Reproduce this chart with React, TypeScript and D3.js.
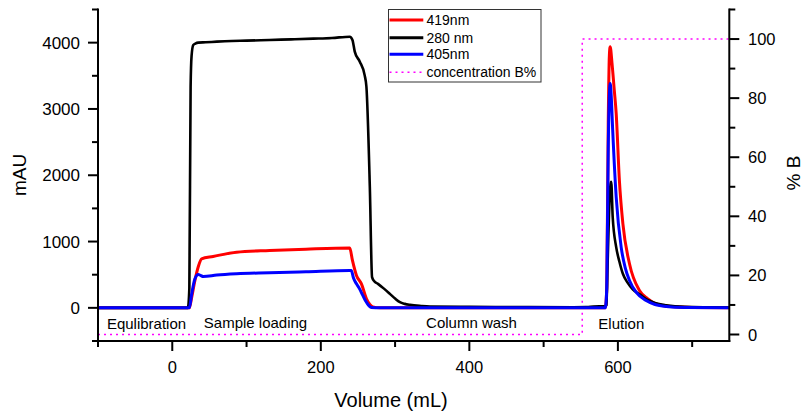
import React from "react";
import * as d3 from "d3";

// ---------- data ----------
const vol280 = [-100, 21, 23, 24.7, 26, 28.3, 31, 35, 45, 60, 80, 100, 131, 160, 190, 215, 239, 242.6, 245.7, 252.5, 259, 261.4, 266, 269, 272, 277, 285, 293, 300, 306.5, 313, 320, 335, 347, 400, 480, 540, 560, 575, 583, 584.5, 586, 588, 590, 591, 593, 597.7, 602, 606.7, 613, 620, 630, 640, 650, 665, 690, 750];
const abs280 = [0, 0, 300, 3335, 3800, 3965, 3985, 4000, 4005, 4015, 4025, 4030, 4041, 4050, 4060, 4070, 4090, 4040, 3865, 3713, 3510, 3335, 1823, 463, 400, 362, 290, 211, 140, 85, 60, 45, 28, 20, 15, 12, 10, 12, 25, 25, 40, 600, 1400, 1850, 1900, 1370, 916, 700, 514, 380, 280, 200, 120, 75, 40, 15, 5];

const vol419 = [-100, 23, 26, 30.5, 35, 39.5, 55, 86.6, 131, 180, 239, 242.6, 248, 254.7, 261.5, 266, 270, 280, 400, 583, 585, 587, 588.5, 589.6, 592, 595, 597.7, 602, 606.7, 615.6, 629, 640, 651.5, 670, 700, 750];
const abs419 = [0, 0, 150, 412, 620, 740, 775, 840, 866, 885, 901, 715, 488, 362, 136, 50, 15, 0, 0, 0, 300, 2800, 3800, 3940, 3700, 3300, 2933, 1925, 1270, 665, 262, 140, 60, 20, 5, 0];

const vol405 = [-100, 23, 26, 30.5, 35, 38, 41.7, 60, 86.6, 131, 180, 239, 241, 244, 248, 252, 256, 260, 265, 268, 280, 400, 583, 585, 587, 589.6, 591, 593, 597.7, 604.4, 610, 615.6, 625, 638, 650, 665, 690, 750];
const abs405 = [0, 0, 200, 438, 503, 490, 473, 495, 514, 529, 545, 564, 564, 450, 362, 290, 200, 110, 30, 5, 0, 0, 0, 300, 2400, 3385, 3200, 2680, 1672, 916, 600, 413, 230, 110, 50, 20, 5, 0];

const volB = [-100, 552, 552, 750];
const concB = [0, 0, 100, 100];

const xTicksMajor = [0, 200, 400, 600];
const xTicksMinor = [-100, 100, 300, 500, 700];
const yTicksMajor = [0, 1000, 2000, 3000, 4000];
const yTicksMinor = [-500, 500, 1500, 2500, 3500, 4500];
const y2TicksMajor = [0, 20, 40, 60, 80, 100];
const y2TicksMinor = [10, 30, 50, 70, 90, 110];

const legendItems = [
  { label: "419nm", color: "#ff0000", dash: "" },
  { label: "280 nm", color: "#000000", dash: "" },
  { label: "405nm", color: "#0000ff", dash: "" },
  { label: "concentration B%", color: "#ff00ff", dash: "2,4" },
];

const phaseLabels = [
  { text: "Equlibration", x: 146.5, y: 329 },
  { text: "Sample loading", x: 255.5, y: 328 },
  { text: "Column wash", x: 471.5, y: 328 },
  { text: "Elution", x: 621.3, y: 328.5 },
];

// ---------- layout ----------
const W = 805;
const H = 414;
const L = 98;
const R = 729.3;
const T = 9.5;
const B = 341;

const FONT = "Arial, 'Liberation Sans', sans-serif";

export default function App() {
  const x = d3.scaleLinear().domain([-100, 750]).range([L, R]);
  const y = d3.scaleLinear().domain([-500, 4500]).range([B, T]);
  const y2 = d3.scaleLinear().domain([-2.2, 110]).range([B, T]);

  const mk = (xs: number[], ys: number[]) => xs.map((v, i) => [v, ys[i]] as [number, number]);
  const line = d3
    .line<[number, number]>()
    .x((d) => x(d[0]))
    .y((d) => y(d[1]))
    .curve(d3.curveMonotoneX);
  const lineB = d3
    .line<[number, number]>()
    .x((d) => x(d[0]))
    .y((d) => y2(d[1]));

  const axisStroke = 2;

  return (
    <svg
      width={W}
      height={H}
      style={{ position: "absolute", left: 0, top: 0, background: "#fff" }}
      fontFamily={FONT}
    >
      <rect x={0} y={0} width={W} height={H} fill="#fff" />
      {/* concentration B */}
      <path d={lineB(mk(volB, concB)) || ""} fill="none" stroke="#ff00ff" strokeWidth={1.5} strokeDasharray="2,4" />
      {/* data lines */}
      <path d={line(mk(vol419, abs419)) || ""} fill="none" stroke="#ff0000" strokeWidth={3} strokeLinejoin="round" />
      <path d={line(mk(vol280, abs280)) || ""} fill="none" stroke="#000000" strokeWidth={2.6} strokeLinejoin="round" />
      <path d={line(mk(vol405, abs405)) || ""} fill="none" stroke="#0000ff" strokeWidth={3} strokeLinejoin="round" />

      {/* phase labels */}
      {phaseLabels.map((p) => (
        <text key={p.text} x={p.x} y={p.y} fontSize={15} textAnchor="middle" fill="#000">
          {p.text}
        </text>
      ))}

      {/* axes lines */}
      <line x1={L} x2={L} y1={T - 1} y2={B + 1} stroke="#000" strokeWidth={axisStroke} />
      <line x1={R} x2={R} y1={T - 1} y2={B + 1} stroke="#000" strokeWidth={axisStroke} />
      <line x1={L - 1} x2={R + 1} y1={B} y2={B} stroke="#000" strokeWidth={axisStroke} />

      {/* bottom ticks */}
      {xTicksMajor.map((t) => (
        <g key={"xm" + t}>
          <line x1={x(t)} x2={x(t)} y1={B} y2={B + 10} stroke="#000" strokeWidth={axisStroke} />
          <text x={x(t)} y={373.3} fontSize={16.5} textAnchor="middle">
            {t}
          </text>
        </g>
      ))}
      {xTicksMinor.map((t) => (
        <line key={"xn" + t} x1={x(t)} x2={x(t)} y1={B} y2={B + 6} stroke="#000" strokeWidth={axisStroke} />
      ))}

      {/* left ticks */}
      {yTicksMajor.map((t) => (
        <g key={"ym" + t}>
          <line x1={L - 10} x2={L} y1={y(t)} y2={y(t)} stroke="#000" strokeWidth={axisStroke} />
          <text x={80} y={y(t) + 6} fontSize={17} textAnchor="end">
            {t}
          </text>
        </g>
      ))}
      {yTicksMinor.map((t) => (
        <line key={"yn" + t} x1={L - 6} x2={L} y1={y(t)} y2={y(t)} stroke="#000" strokeWidth={axisStroke} />
      ))}

      {/* right ticks */}
      {y2TicksMajor.map((t) => (
        <g key={"y2m" + t}>
          <line x1={R} x2={R + 10} y1={y2(t)} y2={y2(t)} stroke="#000" strokeWidth={axisStroke} />
          <text x={748} y={y2(t) + 6} fontSize={16.5} textAnchor="start">
            {t}
          </text>
        </g>
      ))}
      {y2TicksMinor.map((t) => (
        <line key={"y2n" + t} x1={R} x2={R + 6} y1={y2(t)} y2={y2(t)} stroke="#000" strokeWidth={axisStroke} />
      ))}

      {/* axis titles */}
      <text x={391} y={406.5} fontSize={20} textAnchor="middle">
        Volume (mL)
      </text>
      <text transform={`translate(26,175) rotate(-90)`} fontSize={19} textAnchor="middle">
        mAU
      </text>
      <text transform={`translate(800,173) rotate(-90)`} fontSize={19} textAnchor="middle">
        % B
      </text>

      {/* legend */}
      <rect x={388.5} y={9.5} width={152.5} height={72.5} fill="#fff" stroke="#333" strokeWidth={1} />
      {legendItems.map((it, i) => {
        const ly = [20, 37.7, 54.3, 72.3][i];
        return (
          <g key={it.label}>
            <line
              x1={389.5}
              x2={423.3}
              y1={ly}
              y2={ly}
              stroke={it.color}
              strokeWidth={it.dash ? 1.5 : 3}
              strokeDasharray={it.dash || undefined}
            />
            <text x={426.5} y={ly + 5} fontSize={14}>
              {it.label}
            </text>
          </g>
        );
      })}
    </svg>
  );
}
